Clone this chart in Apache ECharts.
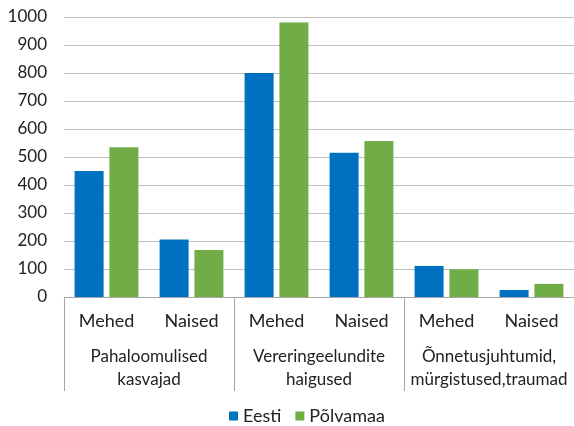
<!DOCTYPE html>
<html>
<head>
<meta charset="utf-8">
<script src="https://cdn.jsdelivr.net/npm/echarts@6/dist/echarts.min.js"></script>
<style>
  html, body { margin: 0; padding: 0; background: #fff; }
  #chart { width: 574px; height: 426px; }
</style>
</head>
<body>
<div id="chart"></div>
<script>
const subCategories = ["Mehed", "Naised", "Mehed", "Naised", "Mehed", "Naised"]
const groups = ["Pahaloomulised\nkasvajad", "Vereringeelundite\nhaigused", "Õnnetusjuhtumid,\nmürgistused,traumad"]
const eesti = [450, 205, 800, 515, 111, 25]
const polvamaa = [535, 168, 980, 557, 99, 47]

const font = "Lato, 'Open Sans', sans-serif"
const chart = echarts.init(document.getElementById("chart"))

chart.setOption({
	animation: false,
	textStyle: { fontFamily: font },
	grid: { left: 64, top: 17, width: 516, height: 280, containLabel: false },
	legend: {
		top: 402,
		left: 224,
		itemWidth: 9,
		itemHeight: 9,
		itemGap: 14,
		icon: "rect",
		textStyle: { fontFamily: font, fontSize: 18, color: "#222" },
		data: ["Eesti", "Põlvamaa"],
	},
	xAxis: [
		{
			type: "category",
			data: subCategories,
			axisLine: { lineStyle: { color: "#a6a6a6" } },
			axisTick: { show: false },
			axisLabel: { interval: 0, margin: 15, fontSize: 18, color: "#222", fontFamily: font },
		},
		{
			type: "category",
			data: groups,
			position: "bottom",
			axisLine: { show: false },
			axisTick: { show: true, interval: 0, length: 94, lineStyle: { color: "#a6a6a6" } },
			axisLabel: { interval: 0, margin: 48, fontSize: 17, lineHeight: 23, color: "#222", fontFamily: font },
		},
	],
	yAxis: {
		type: "value",
		min: 0,
		max: 1000,
		interval: 100,
		axisLine: { show: false },
		axisTick: { show: false },
		splitLine: { lineStyle: { color: "#bfbfbf" } },
		axisLabel: { margin: 17, fontSize: 17, color: "#222", fontFamily: font, formatter: (v) => String(v) },
	},
	series: [
		{
			name: "Eesti",
			type: "bar",
			data: eesti,
			barWidth: 29,
			barGap: "20%",
			itemStyle: { color: "#0070c0" },
		},
		{
			name: "Põlvamaa",
			type: "bar",
			data: polvamaa,
			barWidth: 29,
			itemStyle: { color: "#70ad47" },
		},
	],
})
</script>
</body>
</html>
